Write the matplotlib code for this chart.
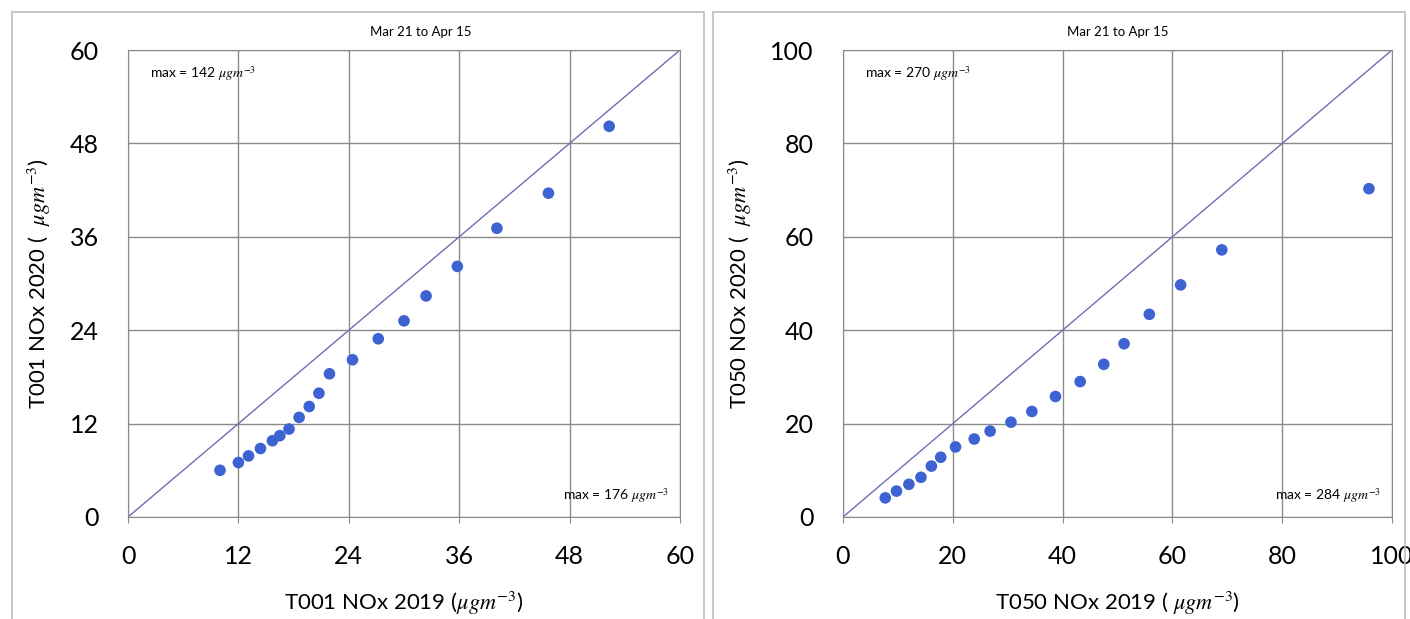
import matplotlib
matplotlib.use("Agg")
import matplotlib.pyplot as plt
from matplotlib.patches import Rectangle

plt.rcParams['font.family'] = ['Lato', 'DejaVu Sans']
plt.rcParams['mathtext.fontset'] = 'stix'

# T001 site (left panel)
t001_2019 = [10.0, 12.0, 13.1, 14.4, 15.7, 16.5, 17.5, 18.6, 19.7, 20.75,
             21.9, 24.4, 27.2, 30.0, 32.4, 35.8, 40.1, 45.7, 52.3]
t001_2020 = [6.0, 7.0, 7.85, 8.8, 9.8, 10.45, 11.3, 12.8, 14.2, 15.9,
             18.4, 20.2, 22.9, 25.2, 28.4, 32.2, 37.1, 41.6, 50.2]
t001_ticks = [0, 12, 24, 36, 48, 60]

# T050 site (right panel)
t050_2019 = [7.7, 9.75, 12.0, 14.2, 16.1, 17.8, 20.5, 23.9, 26.8, 30.6,
             34.4, 38.7, 43.2, 47.5, 51.2, 55.8, 61.5, 69.0, 95.8]
t050_2020 = [4.1, 5.55, 7.0, 8.5, 10.9, 12.8, 15.0, 16.7, 18.4, 20.3,
             22.6, 25.8, 29.0, 32.7, 37.1, 43.4, 49.7, 57.2, 70.3]
t050_ticks = [0, 20, 40, 60, 80, 100]

period = "Mar 21 to Apr 15"
unit = r"$\mu g m^{-3}$"

fig = plt.figure(figsize=(14.10, 6.19), dpi=100)

# panel frames
for x0 in (12, 713):
    fig.patches.append(Rectangle((x0 / 1410, -0.01), 692 / 1410, 1 - 12 / 619 + 0.01,
                                 transform=fig.transFigure, fill=False,
                                 edgecolor='#bdbdbd', linewidth=1.2))


def draw_panel(rect, xs, ys, ticks, xlabel, ylabel, max_top, max_bot, title_x):
    ax = fig.add_axes(rect)
    lim = ticks[-1]
    ax.plot([0, lim], [0, lim], color='#6b6fb3', linewidth=1.0, zorder=2)
    ax.scatter(xs, ys, s=70, color='#3d63d3', edgecolors='none', zorder=3)
    ax.set_xlim(0, lim)
    ax.set_ylim(0, lim)
    ax.set_xticks(ticks)
    ax.set_yticks(ticks)
    ax.grid(True, color='#8a8a8a', linewidth=1.0)
    ax.set_axisbelow(True)
    for s in ax.spines.values():
        s.set_color('#8a8a8a')
    ax.tick_params(axis='x', labelsize=18, pad=16, length=4, color='#8a8a8a')
    ax.tick_params(axis='y', labelsize=18, pad=21, length=0)
    ax.set_xlabel(xlabel, fontsize=16, labelpad=16)
    ax.set_ylabel(ylabel, fontsize=16, labelpad=12)
    ax.text(title_x, 1.025, period, transform=ax.transAxes, ha='center',
            va='bottom', fontsize=9.5)
    ax.text(0.04, 0.95, max_top, transform=ax.transAxes, ha='left',
            va='center', fontsize=10)
    ax.text(0.98, 0.045, max_bot, transform=ax.transAxes, ha='right',
            va='center', fontsize=10)
    return ax


draw_panel([128 / 1410, 1 - 517 / 619, 552 / 1410, 467 / 619],
           t001_2019, t001_2020, t001_ticks,
           "T001 NOx 2019 (" + unit + ")", "T001 NOx 2020 (  " + unit + ")",
           "max = 142 " + unit, "max = 176 " + unit, 0.53)
draw_panel([843 / 1410, 1 - 517 / 619, 549 / 1410, 467 / 619],
           t050_2019, t050_2020, t050_ticks,
           "T050 NOx 2019 ( " + unit + ")", "T050 NOx 2020 (  " + unit + ")",
           "max = 270 " + unit, "max = 284 " + unit, 0.50)

fig.savefig("out.png", dpi=100)
